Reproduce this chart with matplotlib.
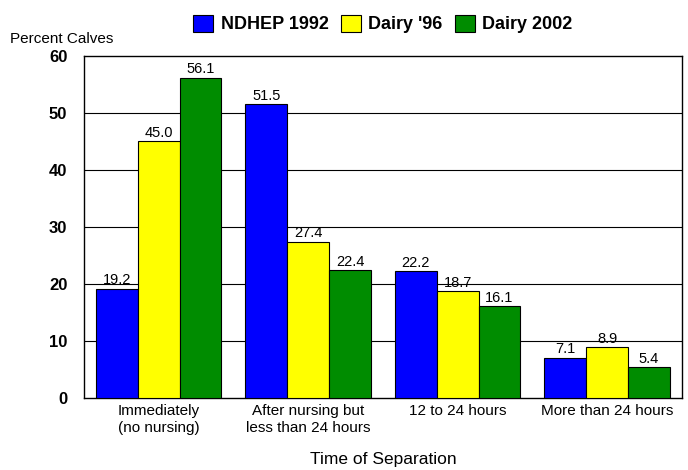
import matplotlib
matplotlib.use("Agg")
import matplotlib.pyplot as plt
import numpy as np

plt.rcParams['font.family'] = ['Liberation Sans', 'DejaVu Sans']

categories = ["Immediately\n(no nursing)", "After nursing but\nless than 24 hours",
              "12 to 24 hours", "More than 24 hours"]
series_names = ["NDHEP 1992", "Dairy '96", "Dairy 2002"]
ndhep_1992 = [19.2, 51.5, 22.2, 7.1]
dairy_96 = [45.0, 27.4, 18.7, 8.9]
dairy_2002 = [56.1, 22.4, 16.1, 5.4]
colors = ["#0000ff", "#ffff00", "#008c00"]

fig = plt.figure(figsize=(6.88, 4.70), dpi=100)
ax = fig.add_axes([0.122, 0.153, 0.869, 0.728])

x = np.arange(len(categories))
width = 0.28
for i, (vals, name, c) in enumerate(zip([ndhep_1992, dairy_96, dairy_2002], series_names, colors)):
    bars = ax.bar(x + (i - 1) * width, vals, width, color=c, edgecolor='black',
                  linewidth=0.8, label=name, zorder=3)
    for b, v in zip(bars, vals):
        ax.text(b.get_x() + b.get_width() / 2, v + 0.3, f"{v:.1f}",
                ha='center', va='bottom', fontsize=10.5)

ax.set_xlim(-0.5, 3.5)
ax.set_ylim(0, 60)
ax.set_yticks(range(0, 61, 10))
ax.set_yticklabels([str(t) for t in range(0, 61, 10)], fontweight='bold', fontsize=12)
ax.set_xticks(x)
ax.set_xticklabels(categories, fontsize=11, linespacing=1.35)
ax.tick_params(axis='both', length=0)
ax.tick_params(axis='y', pad=12)
ax.tick_params(axis='x', pad=4)
for y in range(10, 60, 10):
    ax.axhline(y, color='black', linewidth=0.8, zorder=1)
for s in ax.spines.values():
    s.set_linewidth(1.0)

ax.set_xlabel("Time of Separation", fontsize=12.5, labelpad=12)
fig.text(0.015, 0.902, "Percent Calves", fontsize=11, ha='left', va='bottom')

ax.legend(loc='lower center', bbox_to_anchor=(0.5, 1.045), ncol=3, frameon=False,
          prop={'weight': 'bold', 'size': 13}, handlelength=1.1, handleheight=1.1,
          columnspacing=0.7, handletextpad=0.4, borderaxespad=0)

fig.savefig("out.png", dpi=100)
